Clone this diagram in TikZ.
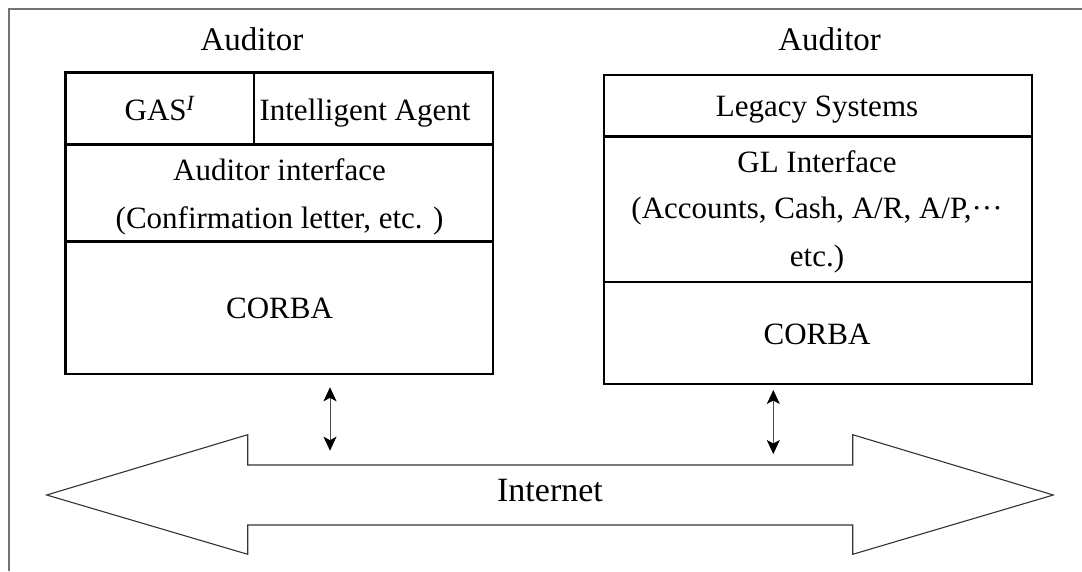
\documentclass[tikz,border=0pt]{standalone}
\usepackage{fontspec}
\setmainfont{Liberation Serif}
\usetikzlibrary{arrows.meta}

\tikzset{
  layer/.style={draw=black, line width=2.8pt},
  boxtext/.style={anchor=base, inner sep=0pt, font=\fontsize{31}{37}\selectfont},
  titletext/.style={anchor=base, inner sep=0pt, font=\fontsize{33}{40}\selectfont},
  nettext/.style={anchor=base, inner sep=0pt, font=\fontsize{34}{40}\selectfont},
  tip/.style={Stealth[length=14pt,width=13pt,inset=3.5pt,black]},
  link/.style={draw=gray!60!black, line width=0.8pt, {Stealth[length=14pt,width=13pt,inset=3.5pt,black]}-{Stealth[length=14pt,width=13pt,inset=3.5pt,black]}},
  pipe/.style={draw=black!80, line width=1.1pt, line join=miter},
  frame/.style={draw=gray!90!black, line width=1.6pt}
}

\begin{document}
\begin{tikzpicture}[x=1pt, y=-1pt]
  \useasboundingbox (0,0) rectangle (1082,571);

  % page frame (top and left edges)
  \draw[frame] (9,571) -- (9,9) -- (1082,9);

  % ---- auditor side ----
  \node[titletext] (audL) at (252,50) {Auditor};
  \draw[layer] (65.5,72.7) rectangle (493,374);
  \draw[layer] (65.5,144.7) -- (493,144.7);
  \draw[layer] (65.5,241.7) -- (493,241.7);
  \draw[layer] (254,72.7) -- (254,144.7);
  \node[boxtext] (gas) at (160,120) {GAS\textsuperscript{\textit{I}}};
  \node[boxtext] (agent) at (365,120) {Intelligent Agent};
  \node[boxtext] (audif) at (279.5,180) {Auditor interface};
  \node[boxtext] (confirm) at (279.5,228) {(Confirmation letter, etc. )};
  \node[boxtext] (corbaL) at (279.5,318.5) {CORBA};
  \coordinate (linkLtop) at (330,387.3);
  \coordinate (linkLbot) at (330,450.7);

  % ---- auditee side ----
  \node[titletext] (audR) at (829.6,50) {Auditor};
  \draw[layer] (604,75) rectangle (1032,384);
  \draw[layer] (604,136.7) -- (1032,136.7);
  \draw[layer] (604,282) -- (1032,282);
  \node[boxtext] (legacy) at (817,116.7) {Legacy Systems};
  \node[boxtext] (glif) at (817,172.7) {GL Interface};
  \node[boxtext] (accts) at (817,218.3) {(Accounts, Cash, A/R, A/P,···};
  \node[boxtext] (etc) at (817,266.5) {etc.)};
  \node[boxtext] (corbaR) at (817,344) {CORBA};
  \coordinate (linkRtop) at (773.3,390);
  \coordinate (linkRbot) at (773.3,454);

  % ---- internet pipe ----
  \draw[pipe] (46.7,495) -- (247.7,434.7) -- (247.7,465) -- (852.7,465)
    -- (852.7,434.7) -- (1053.3,495) -- (852.7,554.3) -- (852.7,525)
    -- (247.7,525) -- (247.7,554.3) -- cycle;
  \node[nettext] (net) at (550,501.7) {Internet};

  % ---- connections ----
  \draw[link] (linkLtop) -- (linkLbot);
  \draw[link] (linkRtop) -- (linkRbot);
\end{tikzpicture}
\end{document}
